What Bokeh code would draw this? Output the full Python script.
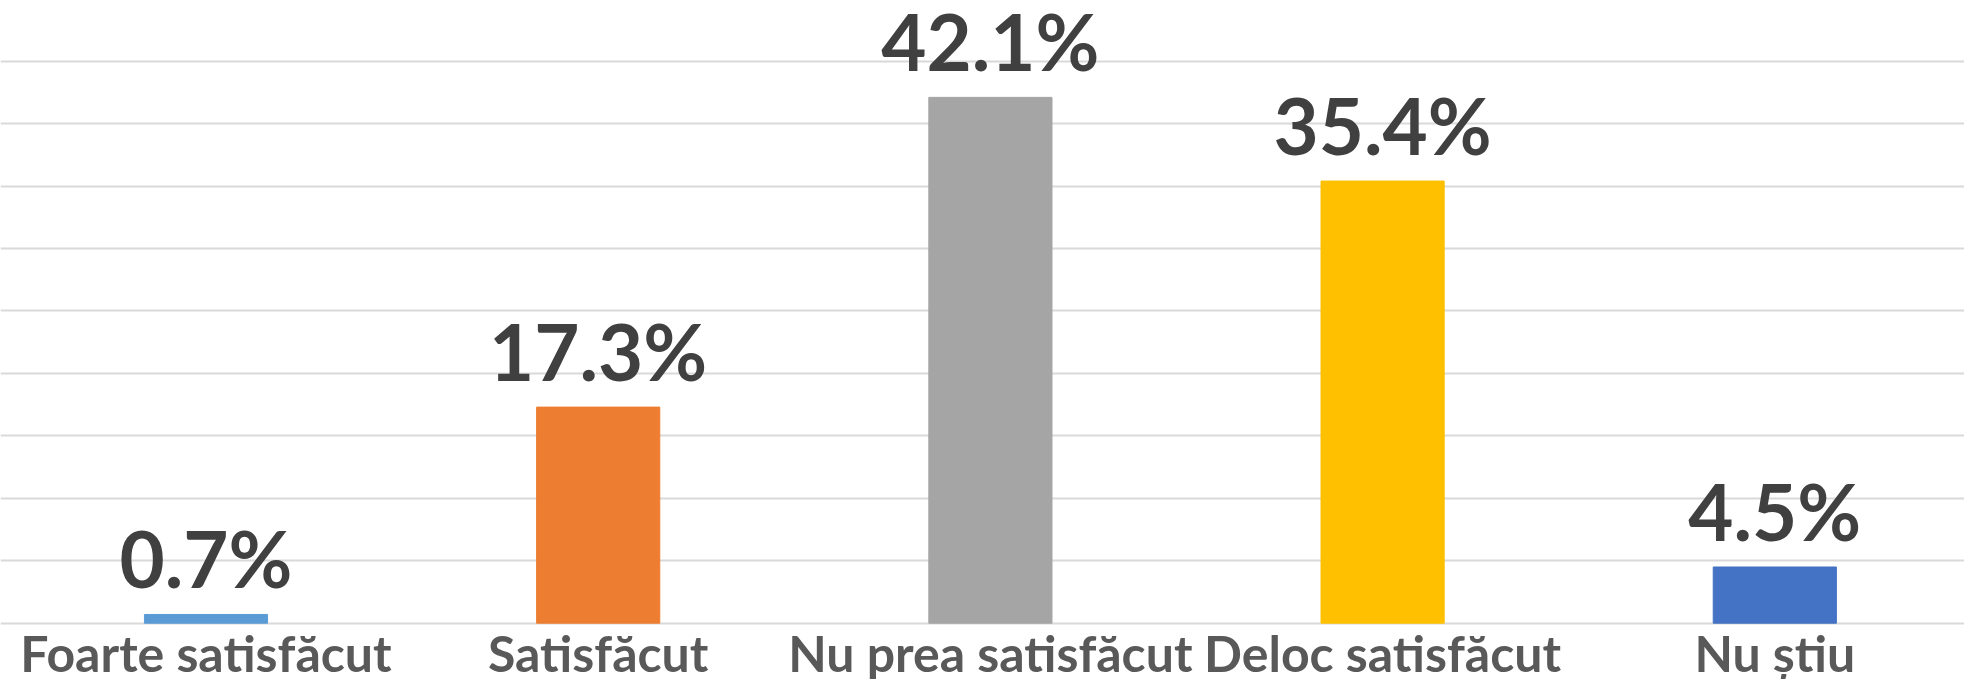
from bokeh.plotting import figure
from bokeh.models import ColumnDataSource, Range1d, Grid, FixedTicker
from bokeh.core.properties import value
from bokeh.embed import file_html
from bokeh.resources import INLINE

categories = ["Foarte satisfăcut", "Satisfăcut", "Nu prea satisfăcut", "Deloc satisfăcut", "Nu știu"]
values = [0.7, 17.3, 42.1, 35.4, 4.5]
value_labels = ["0.7%", "17.3%", "42.1%", "35.4%", "4.5%"]
grid_ticks = [0, 5, 10, 15, 20, 25, 30, 35, 40, 45]

bar_colors = ["#5B9BD5", "#ED7D31", "#A5A5A5", "#FFC000", "#4472C4"]

positions = list(range(len(categories)))
source = ColumnDataSource(dict(x=positions, top=values, label=value_labels,
                               cat=categories, color=bar_colors,
                               zero=[0] * len(categories)))

W, H = 1964, 679
px_per_cat = 392.2
x_start = -205.5 / px_per_cat
x_end = x_start + W / px_per_cat
px_per_unit = 12.49
y_zero_px = 622.7
y_start = -(H - y_zero_px) / px_per_unit
y_end = y_zero_px / px_per_unit

p = figure(width=W, height=H, output_backend="svg", toolbar_location=None,
           x_axis_type=None, y_axis_type=None,
           x_range=Range1d(x_start, x_end), y_range=Range1d(y_start, y_end),
           min_border=0, outline_line_color=None)
p.background_fill_color = "white"
p.border_fill_color = "white"

grid = Grid(dimension=1, ticker=FixedTicker(ticks=grid_ticks),
            grid_line_color="#D9D9D9", grid_line_width=2)
p.add_layout(grid)

p.vbar(x="x", top="top", bottom=0, width=0.314, color="color", source=source)

p.text(x="x", y="top", text="label", source=source, y_offset=-56,
       text_align="center", text_baseline="alphabetic",
       text_font=value("Lato"), text_font_style="bold", text_font_size="78px",
       text_color="#404040")

p.text(x="x", y="zero", text="cat", source=source, y_offset=29.4,
       text_align="center", text_baseline="alphabetic",
       text_font=value("Lato"), text_font_style="bold", text_font_size="50px",
       text_color="#595959")

open("out.html", "w").write(file_html(p, INLINE))
